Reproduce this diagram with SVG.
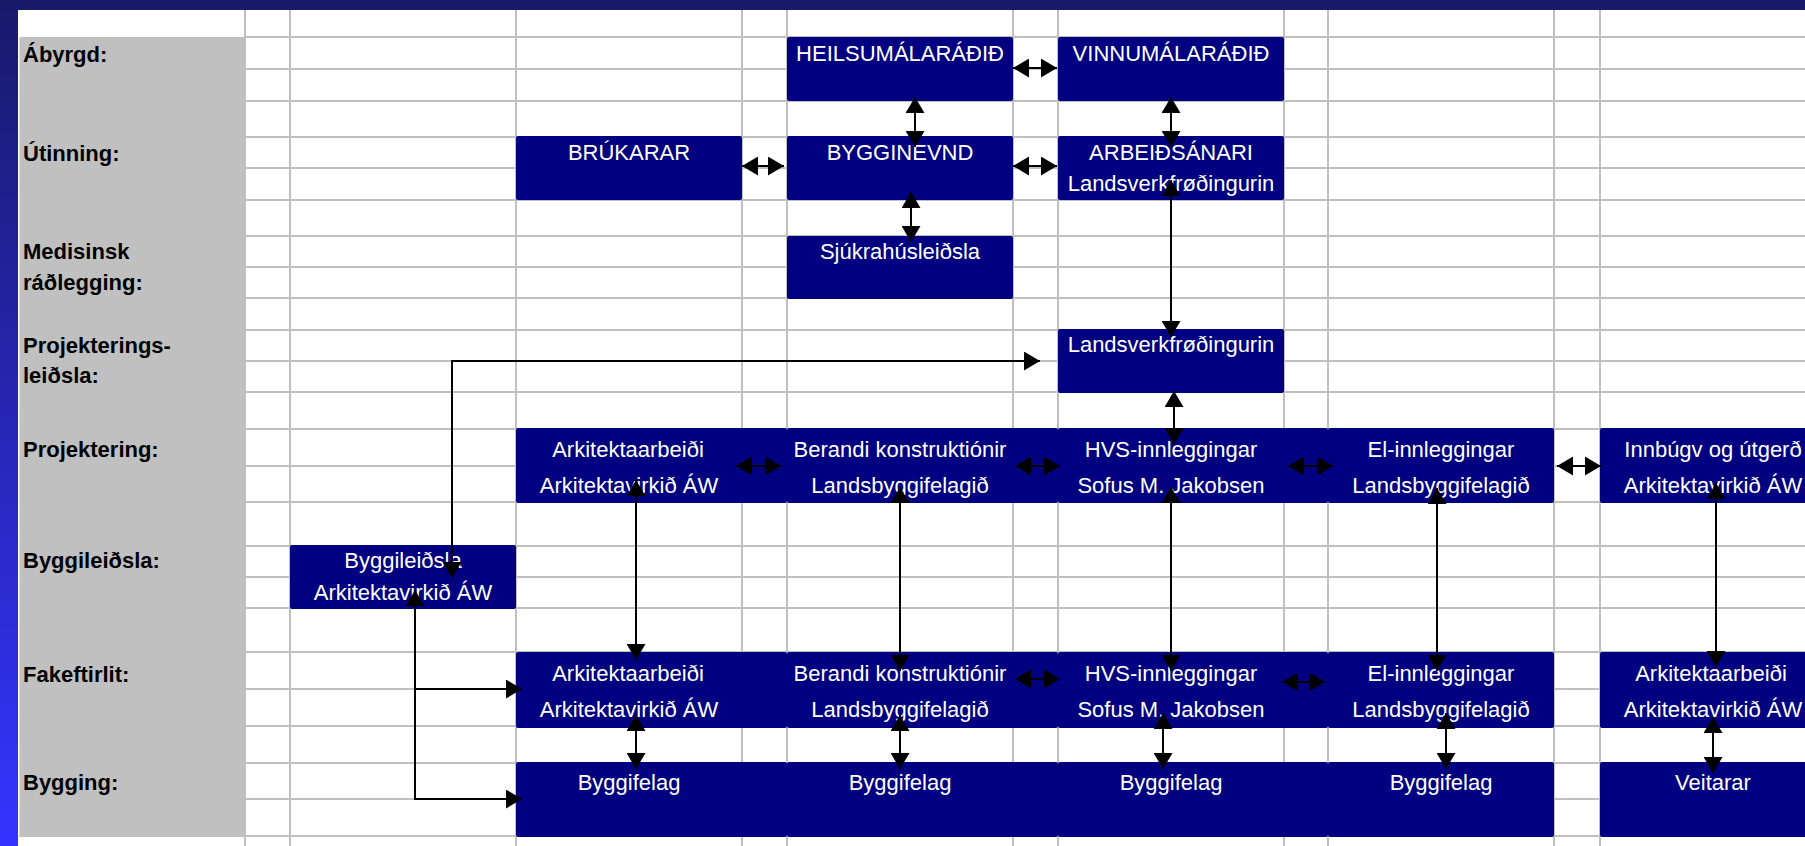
<svg xmlns="http://www.w3.org/2000/svg" width="1805" height="846" viewBox="0 0 1805 846">
<defs>
<linearGradient id="bg" x1="0" y1="0" x2="0" y2="1">
<stop offset="0" stop-color="#19196b"/>
<stop offset="1" stop-color="#3434ff"/>
</linearGradient>
<marker id="ah" markerUnits="userSpaceOnUse" viewBox="0 0 16 19" markerWidth="16" markerHeight="19" refX="16" refY="9.5" orient="auto-start-reverse">
<path d="M0,0 L16,9.5 L0,19 z" fill="#000"/>
</marker>
</defs>
<style>
.grid line{stroke:#c0c0c0;stroke-width:2}
.box{fill:#000080}
.nt{font-family:"Liberation Sans",Arial,sans-serif;font-size:22px;fill:#fff;text-anchor:middle}
.lbl{font-family:"Liberation Sans",Arial,sans-serif;font-size:22px;font-weight:bold;fill:#000}
.cn{stroke:#000;stroke-width:2;fill:none;marker-start:url(#ah);marker-end:url(#ah)}
.cn1{stroke:#000;stroke-width:2;fill:none;marker-end:url(#ah)}
</style>
<rect x="0" y="0" width="1805" height="846" fill="url(#bg)"/>
<rect x="18" y="10" width="1787" height="836" fill="#fff"/>
<rect x="19.5" y="37" width="225.5" height="800" fill="#c0c0c0"/>
<g class="grid">
<line x1="245" y1="10" x2="245" y2="846"/>
<line x1="290" y1="10" x2="290" y2="846"/>
<line x1="516" y1="10" x2="516" y2="846"/>
<line x1="742" y1="10" x2="742" y2="846"/>
<line x1="787" y1="10" x2="787" y2="846"/>
<line x1="1013" y1="10" x2="1013" y2="846"/>
<line x1="1058" y1="10" x2="1058" y2="846"/>
<line x1="1284" y1="10" x2="1284" y2="846"/>
<line x1="1328" y1="10" x2="1328" y2="846"/>
<line x1="1554" y1="10" x2="1554" y2="846"/>
<line x1="1600" y1="10" x2="1600" y2="846"/>
<line x1="245" y1="37" x2="1805" y2="37"/>
<line x1="245" y1="69" x2="1805" y2="69"/>
<line x1="245" y1="101" x2="1805" y2="101"/>
<line x1="245" y1="137" x2="1805" y2="137"/>
<line x1="245" y1="168" x2="1805" y2="168"/>
<line x1="245" y1="200" x2="1805" y2="200"/>
<line x1="245" y1="236" x2="1805" y2="236"/>
<line x1="245" y1="267" x2="1805" y2="267"/>
<line x1="245" y1="298" x2="1805" y2="298"/>
<line x1="245" y1="330" x2="1805" y2="330"/>
<line x1="245" y1="361" x2="1805" y2="361"/>
<line x1="245" y1="392" x2="1805" y2="392"/>
<line x1="245" y1="429" x2="1805" y2="429"/>
<line x1="245" y1="466" x2="1805" y2="466"/>
<line x1="245" y1="502" x2="1805" y2="502"/>
<line x1="245" y1="546" x2="1805" y2="546"/>
<line x1="245" y1="577" x2="1805" y2="577"/>
<line x1="245" y1="608" x2="1805" y2="608"/>
<line x1="245" y1="652" x2="1805" y2="652"/>
<line x1="245" y1="689" x2="1805" y2="689"/>
<line x1="245" y1="726" x2="1805" y2="726"/>
<line x1="245" y1="763" x2="1805" y2="763"/>
<line x1="245" y1="799" x2="1805" y2="799"/>
<line x1="19" y1="836" x2="1805" y2="836"/>
</g>
<g id="labels">
<text class="lbl" x="23" y="62">Ábyrgd:</text>
<text class="lbl" x="23" y="161">Útinning:</text>
<text class="lbl" x="23" y="259">Medisinsk</text>
<text class="lbl" x="23" y="290">ráðlegging:</text>
<text class="lbl" x="23" y="353">Projekterings-</text>
<text class="lbl" x="23" y="383">leiðsla:</text>
<text class="lbl" x="23" y="457">Projektering:</text>
<text class="lbl" x="23" y="568">Byggileiðsla:</text>
<text class="lbl" x="23" y="682">Fakeftirlit:</text>
<text class="lbl" x="23" y="790">Bygging:</text>
</g>
<g id="n-heilsu"><rect class="box" x="787" y="37" width="226" height="64" rx="2"/><text class="nt" x="900" y="61">HEILSUMÁLARÁÐIÐ</text></g>
<g id="n-vinnu"><rect class="box" x="1058" y="37" width="226" height="64" rx="2"/><text class="nt" x="1171" y="61">VINNUMÁLARÁÐIÐ</text></g>
<g id="n-brukarar"><rect class="box" x="516" y="136" width="226" height="64" rx="2"/><text class="nt" x="629" y="160">BRÚKARAR</text></g>
<g id="n-bygginevnd"><rect class="box" x="787" y="136" width="226" height="64" rx="2"/><text class="nt" x="900" y="160">BYGGINEVND</text></g>
<g id="n-arbeid"><rect class="box" x="1058" y="136" width="226" height="64" rx="2"/><text class="nt" x="1171" y="160">ARBEIÐSÁNARI</text><text class="nt" x="1171" y="191">Landsverkfrøðingurin</text></g>
<g id="n-sjukrahus"><rect class="box" x="787" y="236" width="226" height="63" rx="2"/><text class="nt" x="900" y="259">Sjúkrahúsleiðsla</text></g>
<g id="n-landsverk"><rect class="box" x="1058" y="329" width="226" height="64" rx="2"/><text class="nt" x="1171" y="352">Landsverkfrøðingurin</text></g>
<g id="n-p-ark"><rect class="box" x="516" y="428" width="271" height="75" rx="2"/><text class="nt" x="628" y="457">Arkitektaarbeiði</text><text class="nt" x="629" y="493">Arkitektavirkið ÁW</text></g>
<g id="n-p-ber"><rect class="box" x="787" y="428" width="271" height="75" rx="2"/><text class="nt" x="900" y="457">Berandi konstruktiónir</text><text class="nt" x="900" y="493">Landsbyggifelagið</text></g>
<g id="n-p-hvs"><rect class="box" x="1058" y="428" width="270" height="75" rx="2"/><text class="nt" x="1171" y="457">HVS-innleggingar</text><text class="nt" x="1171" y="493">Sofus M. Jakobsen</text></g>
<g id="n-p-el"><rect class="box" x="1328" y="428" width="226" height="75" rx="2"/><text class="nt" x="1441" y="457">El-innleggingar</text><text class="nt" x="1441" y="493">Landsbyggifelagið</text></g>
<g id="n-p-inn"><rect class="box" x="1600" y="428" width="226" height="75" rx="2"/><text class="nt" x="1713" y="457">Innbúgv og útgerð</text><text class="nt" x="1713" y="493">Arkitektavirkið ÁW</text></g>
<g id="n-byggileidsla"><rect class="box" x="290" y="545" width="226" height="64" rx="2"/><text class="nt" x="403" y="568">Byggileiðsla</text><text class="nt" x="403" y="600">Arkitektavirkið ÁW</text></g>
<g id="n-f-ark"><rect class="box" x="516" y="652" width="271" height="76" rx="2"/><text class="nt" x="628" y="681">Arkitektaarbeiði</text><text class="nt" x="629" y="717">Arkitektavirkið ÁW</text></g>
<g id="n-f-ber"><rect class="box" x="787" y="652" width="271" height="76" rx="2"/><text class="nt" x="900" y="681">Berandi konstruktiónir</text><text class="nt" x="900" y="717">Landsbyggifelagið</text></g>
<g id="n-f-hvs"><rect class="box" x="1058" y="652" width="270" height="76" rx="2"/><text class="nt" x="1171" y="681">HVS-innleggingar</text><text class="nt" x="1171" y="717">Sofus M. Jakobsen</text></g>
<g id="n-f-el"><rect class="box" x="1328" y="652" width="226" height="76" rx="2"/><text class="nt" x="1441" y="681">El-innleggingar</text><text class="nt" x="1441" y="717">Landsbyggifelagið</text></g>
<g id="n-f-ark2"><rect class="box" x="1600" y="652" width="226" height="76" rx="2"/><text class="nt" x="1711" y="681">Arkitektaarbeiði</text><text class="nt" x="1713" y="717">Arkitektavirkið ÁW</text></g>
<g id="n-b-1"><rect class="box" x="516" y="762" width="271" height="75" rx="2"/><text class="nt" x="629" y="790">Byggifelag</text></g>
<g id="n-b-2"><rect class="box" x="787" y="762" width="271" height="75" rx="2"/><text class="nt" x="900" y="790">Byggifelag</text></g>
<g id="n-b-3"><rect class="box" x="1058" y="762" width="270" height="75" rx="2"/><text class="nt" x="1171" y="790">Byggifelag</text></g>
<g id="n-b-4"><rect class="box" x="1328" y="762" width="226" height="75" rx="2"/><text class="nt" x="1441" y="790">Byggifelag</text></g>
<g id="n-veitarar"><rect class="box" x="1600" y="762" width="226" height="75" rx="2"/><text class="nt" x="1713" y="790">Veitarar</text></g>
<g id="connectors">
<path class="cn" d="M1013,68 L1057,68"/>
<path class="cn" d="M915,97 L915,147"/>
<path class="cn" d="M1171,97 L1171,147"/>
<path class="cn" d="M742,166 L784,166"/>
<path class="cn" d="M1013,166 L1057,166"/>
<path class="cn" d="M911,192 L911,242"/>
<path class="cn" d="M1171,180 L1171,337"/>
<path class="cn" d="M1174,391 L1174,444"/>
<path class="cn" d="M1040,361 L452,361 L452,578"/>
<path class="cn" d="M415,590 L415,799 L522,799"/>
<path class="cn1" d="M415,689 L522,689"/>
<path class="cn" d="M736,466 L781,466"/>
<path class="cn" d="M1015,466 L1060,466"/>
<path class="cn" d="M1288,466 L1333,466"/>
<path class="cn" d="M1557,466 L1601,466"/>
<path class="cn" d="M636,480 L636,660"/>
<path class="cn" d="M900,487 L900,671"/>
<path class="cn" d="M1171,487 L1171,671"/>
<path class="cn" d="M1437,488 L1437,671"/>
<path class="cn" d="M1716,483 L1716,667"/>
<path class="cn" d="M636,715 L636,769"/>
<path class="cn" d="M900,715 L900,769"/>
<path class="cn" d="M1163,713 L1163,769"/>
<path class="cn" d="M1446,713 L1446,769"/>
<path class="cn" d="M1713,717 L1713,773"/>
<path class="cn" d="M1015,679 L1060,679"/>
<path class="cn" d="M1282,682 L1325,682"/>
</g>
</svg>
